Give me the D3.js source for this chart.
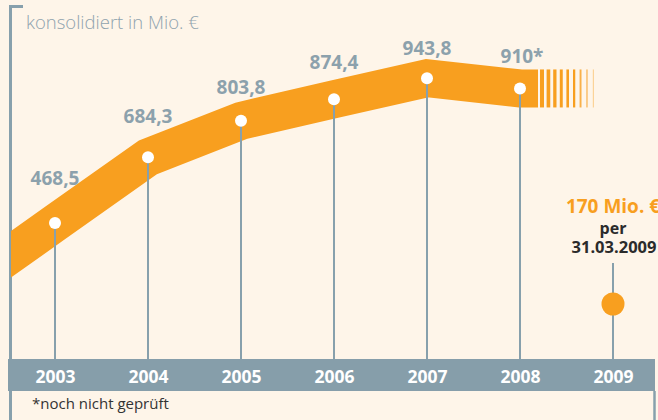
<!DOCTYPE html>
<html><head><meta charset="utf-8">
<script src="https://cdn.jsdelivr.net/npm/d3@7"></script>
<style>
html,body{margin:0;padding:0;background:#FEF5E9;}
svg{display:block;}
</style></head>
<body>
<svg id="chart" width="658" height="420"></svg>
<script>
const years = ["2003","2004","2005","2006","2007","2008","2009"];
const revenueYears = ["2003","2004","2005","2006","2007","2008"];
const revenue = [468.5, 684.3, 803.8, 874.4, 943.8, 910];
const revenueLabels = ["468,5","684,3","803,8","874,4","943,8","910*"];
const labelLift = [38, 34, 27, 30, 23, 25];
const quarterYear = "2009";
const quarterValue = 170;
const quarterLabels = ["170 Mio. €", "per", "31.03.2009"];
const subtitle = "konsolidiert in Mio. €";
const footnote = "*noch nicht geprüft";

const ORANGE = "#F89F1F", GRAY = "#87A0AC", TXT = "#8CA1AC";
const svg = d3.select("#chart");
svg.append("rect").attr("width",658).attr("height",420).attr("fill","#FEF5E9");

const x = d3.scalePoint().domain(years).range([55, 613]);
const y = d3.scaleLinear().domain([0, 1000]).range([366, 61]);
const bandTop = 359, bandBottom = 391;

// left bracket
svg.append("path").attr("d", `M23,6.5H10.5V420`).attr("fill","none")
  .attr("stroke", GRAY).attr("stroke-width",3);
svg.append("text").attr("x",26).attr("y",29).text(subtitle)
  .attr("font-family","Open Sans").attr("font-weight",300).attr("font-size",18.5).attr("fill","#8FA3AE");

// orange band
const pts = revenueYears.map((d,i)=>[x(d), y(revenue[i])]);
const s = (pts[1][1]-pts[0][1])/(pts[1][0]-pts[0][0]);
const leftPt = [pts[0][0]-80, pts[0][1] - s*80];
const endX = x(revenueYears[revenueYears.length-1]) + 18;
const rightPt = [endX, pts[pts.length-1][1]];
const bandPts = [leftPt, ...pts, rightPt];
svg.append("clipPath").attr("id","clipL").append("rect").attr("x",11).attr("y",0).attr("width",650).attr("height",420);
const bandW = 38;
svg.append("path").attr("clip-path","url(#clipL)")
  .attr("d", d3.line()(bandPts)).attr("fill","none").attr("stroke",ORANGE)
  .attr("stroke-width",bandW).attr("stroke-linejoin","miter").attr("stroke-miterlimit",10).attr("stroke-linecap","butt");
// fading stripes
const yEnd = rightPt[1];
d3.range(9).forEach(i=>{
  svg.append("rect").attr("x", endX + 2 + i*6.6).attr("y", yEnd - bandW/2)
    .attr("width", Math.max(1, 4 - i*0.35)).attr("height", bandW)
    .attr("fill", ORANGE).attr("opacity", i < 6 ? 1 : 1 - (i-5)*0.2);
});

// axis band
svg.append("rect").attr("x",8).attr("y",bandTop).attr("width",647).attr("height",bandBottom-bandTop).attr("fill","#869EAA");
svg.append("line").attr("x1",654.5).attr("x2",654.5).attr("y1",bandBottom).attr("y2",420).attr("stroke",GRAY).attr("stroke-width",2.5);

// stems
svg.selectAll(".stem").data(revenue).enter().append("line")
  .attr("x1",(d,i)=>x(revenueYears[i])).attr("x2",(d,i)=>x(revenueYears[i]))
  .attr("y1",d=>y(d)).attr("y2",bandTop).attr("stroke",GRAY).attr("stroke-width",2);
svg.selectAll(".dot").data(revenue).enter().append("circle")
  .attr("cx",(d,i)=>x(revenueYears[i])).attr("cy",d=>y(d)).attr("r",6).attr("fill","#fff");
svg.selectAll(".val").data(revenue).enter().append("text")
  .attr("x",(d,i)=>x(revenueYears[i]) + (i===5?2:0)).attr("y",(d,i)=>y(d)-labelLift[i])
  .attr("text-anchor","middle").text((d,i)=>revenueLabels[i])
  .attr("font-family","Open Sans").attr("font-weight",700).attr("font-size",19).attr("fill",TXT);

// axis
const axis = svg.append("g").attr("transform",`translate(0,${bandTop})`).call(d3.axisBottom(x).tickSize(0));
axis.select(".domain").remove();
axis.selectAll("text").attr("y",24).attr("dy",0).attr("fill","#fff")
  .attr("font-family","Open Sans").attr("font-weight",700).attr("font-size",17.5);

// 2009 annotation
const qx = x(quarterYear), qy = bandTop - 55;
svg.append("line").attr("x1",qx).attr("x2",qx).attr("y1",263).attr("y2",bandTop).attr("stroke",GRAY).attr("stroke-width",2);
svg.append("circle").attr("cx",qx).attr("cy",qy).attr("r",11.5).attr("fill",ORANGE).datum(quarterValue);
svg.append("text").attr("x",qx).attr("y",213).attr("text-anchor","middle").text(quarterLabels[0])
  .attr("font-family","Open Sans").attr("font-weight",700).attr("font-size",19).attr("fill",ORANGE);
svg.append("text").attr("x",qx).attr("y",234).attr("text-anchor","middle").text(quarterLabels[1])
  .attr("font-family","Open Sans").attr("font-weight",700).attr("font-size",16).attr("fill","#2b2b2b");
svg.append("text").attr("x",qx+1).attr("y",253).attr("text-anchor","middle").text(quarterLabels[2])
  .attr("font-family","Open Sans").attr("font-weight",700).attr("font-size",16.5).attr("fill","#2b2b2b");

svg.append("text").attr("x",32).attr("y",409).text(footnote)
  .attr("font-family","Open Sans").attr("font-size",15).attr("fill","#333");
</script>
</body></html>
